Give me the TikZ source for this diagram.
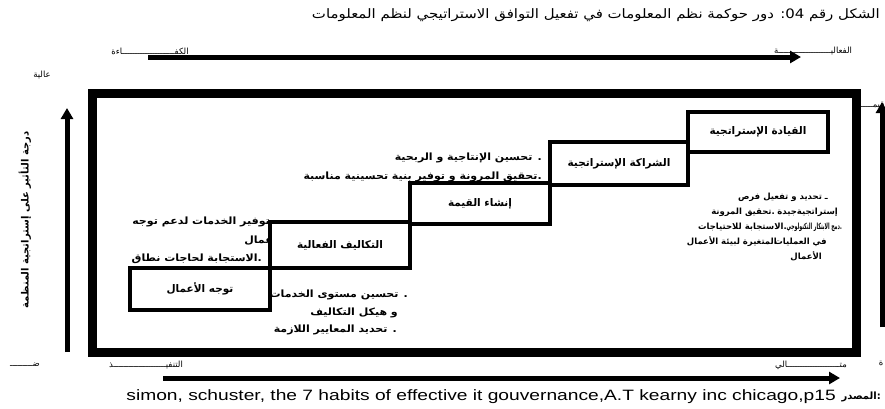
\documentclass[tikz,border=0pt]{standalone}
\usepackage{fontspec}
\usepackage{graphicx}
\setmainfont{Liberation Sans}
\newfontfamily\arabicfont[Script=Arabic]{DejaVu Sans}
\TeXXeTstate=1
\usetikzlibrary{arrows.meta}
\newcommand{\RL}[1]{\beginR #1\endR}
\newcommand{\widen}[2]{\scalebox{#1}[1]{#2}}
\begin{document}
\begin{tikzpicture}[x=1pt,y=-1pt,
  framebox/.style={draw,line width=9pt,inner sep=0pt},
  stepbox/.style={draw,fill=white,line width=3.5pt,inner sep=0pt,
    font=\arabicfont\bfseries\fontsize{10.5}{12}\selectfont},
  note/.style={inner sep=0pt,anchor=east,
    font=\arabicfont\bfseries\fontsize{10}{12}\selectfont},
  smallnote/.style={inner sep=0pt,anchor=east,
    font=\arabicfont\bfseries\fontsize{8.5}{10}\selectfont},
  axislabel/.style={inner sep=0pt,font=\arabicfont\fontsize{8.5}{9}\selectfont},
  axisarrow/.style={line width=5pt,-{Triangle[length=11pt,width=12pt]}},
]
\useasboundingbox (0,0) rectangle (885,408);

% title
\node[inner sep=0pt,anchor=east,font=\arabicfont\fontsize{13}{14}\selectfont] (title) at (880,15)
  {\widen{1.15}{\RL{الشكل رقم 04: دور حوكمة نظم المعلومات في تفعيل التوافق الاستراتيجي لنظم المعلومات}}};

% horizontal axis on top
\coordinate (topL) at (148,57);
\coordinate (topR) at (801,57);
\draw[axisarrow] (topL) -- (topR);
\node[axislabel] (effic) at (150,51) {الكفـــــــــــــــــــــاءة};
\node[axislabel] (effec) at (813,51) {الفعاليـــــــــــــــــــــة};

% vertical axis on the left
\coordinate (leftB) at (67,352);
\coordinate (leftT) at (67,108);
\draw[axisarrow] (leftB) -- (leftT);
\node[axislabel] (high) at (42,75) {عالية};
\node[axislabel] (low) at (25,365) {ضـــــــــ};
\node[inner sep=0pt,rotate=90,font=\arabicfont\bfseries\fontsize{10}{12}\selectfont] (vlabel) at (25,220)
  {\RL{درجة التأثير على إستراتجية المنظمة}};

% vertical axis on the right
\coordinate (rightB) at (882,327);
\coordinate (rightT) at (882,102);
\draw[axisarrow] (rightB) -- (rightT);
\node[axislabel,anchor=east] (value) at (884.5,105) {قيمــــــ};
\node[axislabel] (valend) at (881,363) {ة};

% bottom axis
\coordinate (botL) at (163,378);
\coordinate (botR) at (840,378);
\draw[axisarrow] (botL) -- (botR);
\node[axislabel] (exec) at (146,365) {التنفيـــــــــــــــــــــذ};
\node[axislabel] (ideal) at (811,365) {متـــــــــــــــــــــالي};

% notes around the steps
\node[note] (n1a) at (270,222) {\widen{1.1}{\RL{توفير الخدمات لدعم توجه}}};
\node[note] (n1b) at (285,240) {\widen{1.1}{الأعمال}};
\node[note] (n1c) at (262,259) {\widen{1.1}{\RL{\hbox{.}\hbox{الاستجابة} لحاجات نطاق}}};

\node[note] (n2a) at (408,295) {\widen{1.1}{\RL{. تحسين مستوى الخدمات}}};
\node[note] (n2b) at (398,313) {\widen{1.1}{\RL{و هيكل التكاليف}}};
\node[note] (n2c) at (397,330) {\widen{1.1}{\RL{. تحديد المعايير اللازمة}}};

\node[note] (n3a) at (542,158) {\widen{1.1}{\RL{. تحسين الإنتاجية و الربحية}}};
\node[note] (n3b) at (542,177) {\widen{1.1}{\RL{\hbox{.}\hbox{تحقيق} المرونة و توفير بنية تحسينية مناسبة}}};

\node[smallnote] (n4a) at (828,197) {\RL{ـ تحديد و تفعيل فرص}};
\node[smallnote] (n4b) at (838,212) {إستراتجيةجيدة};
\node[smallnote] (n4c) at (775,212) {\RL{\hbox{.}\hbox{تحقيق} المرونة}};
\node[smallnote] (n4d) at (842,227) {\widen{0.55}{\RL{\hbox{.}\hbox{دمج} الابتكار التكنولوجي}}};
\node[smallnote] (n4e) at (787,227) {\RL{\hbox{.}\hbox{الاستجابة} للاحتياجات}};
\node[smallnote] (n4f) at (827,242) {\RL{في العمليات}};
\node[smallnote] (n4g) at (777,242) {\RL{المتغيرة لبيئة الأعمال}};
\node[smallnote] (n4h) at (822,256) {الأعمال};

% the five steps
\node[stepbox,minimum width=140pt,minimum height=42pt] (s1) at (200,289) {\RL{توجه الأعمال}};
\node[stepbox,minimum width=140pt,minimum height=46pt] (s2) at (340,245) {\RL{التكاليف الفعالية}};
\node[stepbox,minimum width=140pt,minimum height=41pt] (s3) at (480,203.5) {\RL{إنشاء القيمة}};
\node[stepbox,minimum width=138pt,minimum height=43pt] (s4) at (619,163.5) {\RL{الشراكة الإستراتجية}};
\node[stepbox,minimum width=140pt,minimum height=40pt] (s5) at (758,132) {\RL{القيادة الإستراتجية}};

% outer frame
\node[framebox,minimum width=763.5pt,minimum height=259pt] (frm) at (474.25,222.5) {};

% source line
\node[inner sep=0pt,anchor=east,font=\arabicfont\bfseries\fontsize{10}{12}\selectfont] (srclbl) at (881,397) {:المصدر};
\node[inner sep=0pt,anchor=east,font=\fontsize{15}{17}\selectfont] (src) at (srclbl.west)
  {\widen{1.28}{simon, schuster, the 7 habits of effective it gouvernance,A.T kearny inc chicago,p15\ }};
\end{tikzpicture}
\end{document}
